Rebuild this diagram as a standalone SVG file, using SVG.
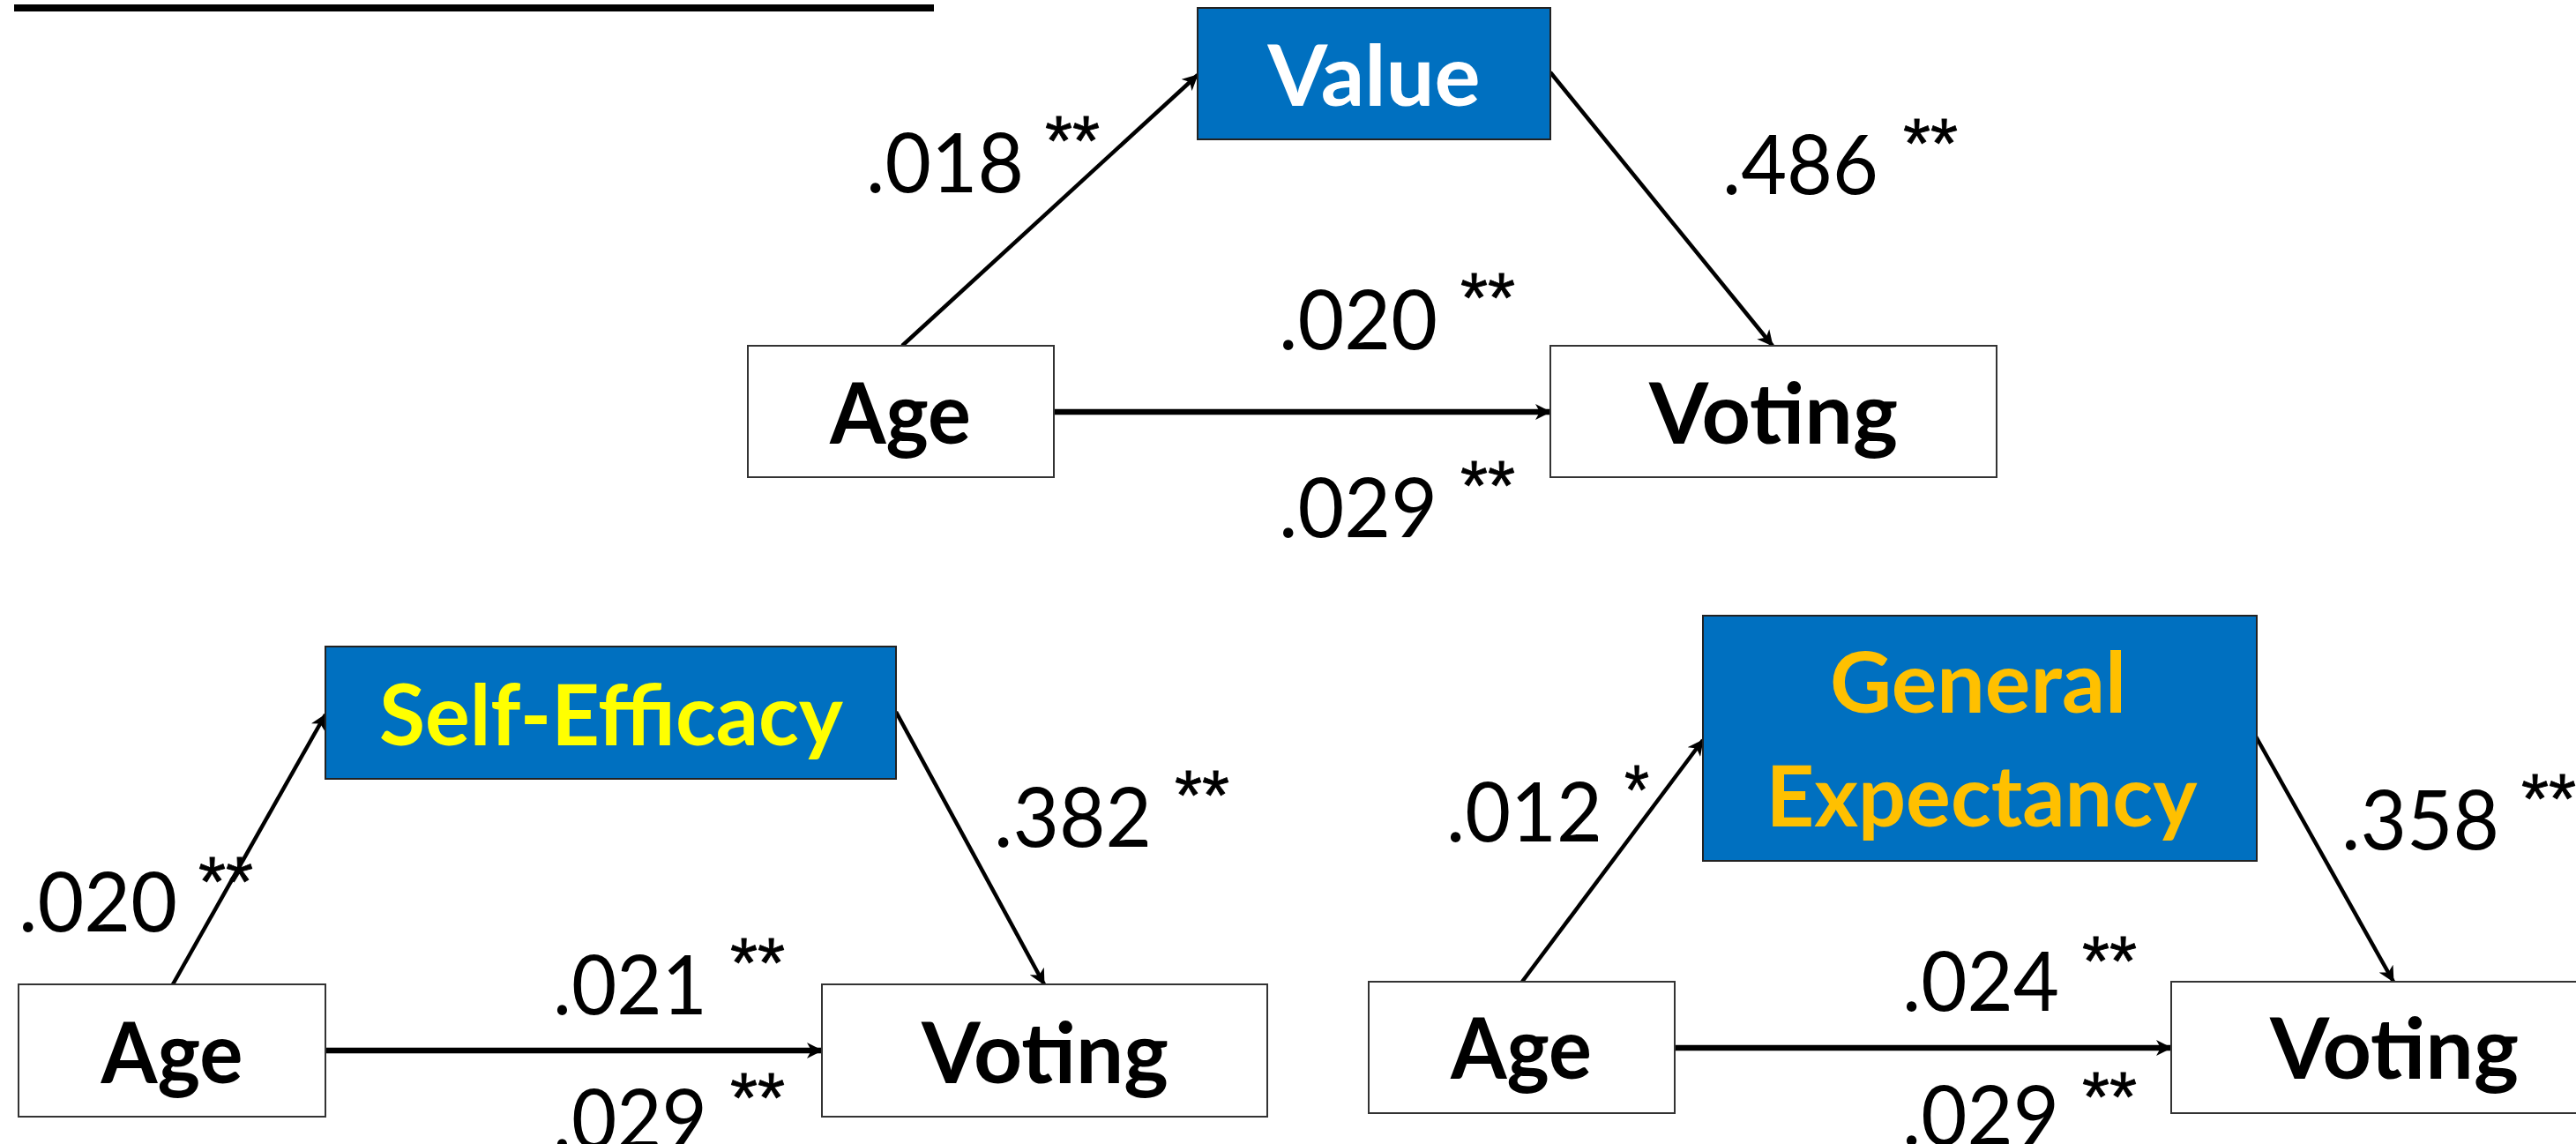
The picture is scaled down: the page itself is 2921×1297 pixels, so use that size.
<svg xmlns="http://www.w3.org/2000/svg" width="2921" height="1297" viewBox="0 0 2921 1297">
<style>
.box{fill:#ffffff;stroke:#333333;stroke-width:2}
.med{fill:#0070C0;stroke:#222222;stroke-width:2}
.nt{font-family:Lato,"Open Sans",sans-serif;font-weight:bold;font-size:95px;text-anchor:middle;fill:#000000}
.lb{font-family:Lato,"Open Sans",sans-serif;font-size:93px;fill:#000000}
.st{font-family:"Liberation Sans",Arial,sans-serif;font-size:80px;fill:#000000;stroke:#000000;stroke-width:0.8}
.dg{stroke:#000000;stroke-width:4.5;fill:none}
.hz{stroke:#000000;stroke-width:6.5;fill:none}
</style>
<defs>
<marker id="ah" viewBox="0 0 18 18" refX="17" refY="9" markerWidth="18" markerHeight="18" markerUnits="userSpaceOnUse" orient="auto">
<path d="M0,0 L18,9 L0,18 L5,9 z" fill="#000000"/>
</marker>
</defs>
<rect width="2921" height="1297" fill="#ffffff"/>
<line x1="16" y1="9" x2="1059" y2="9" stroke="#000000" stroke-width="8"/>

<g id="connectors">
<line class="dg" x1="1023" y1="392" x2="1358" y2="85" marker-end="url(#ah)"/>
<line class="dg" x1="1758" y1="82" x2="2010" y2="392" marker-end="url(#ah)"/>
<line class="hz" x1="1195" y1="467" x2="1758" y2="467" marker-end="url(#ah)"/>
<line class="dg" x1="196" y1="1116" x2="369" y2="810" marker-end="url(#ah)"/>
<line class="dg" x1="1016" y1="807" x2="1184" y2="1116" marker-end="url(#ah)"/>
<line class="hz" x1="369" y1="1191" x2="932" y2="1191" marker-end="url(#ah)"/>
<line class="dg" x1="1726" y1="1113" x2="1931" y2="839" marker-end="url(#ah)"/>
<line class="dg" x1="2558" y1="835" x2="2714" y2="1113" marker-end="url(#ah)"/>
<line class="hz" x1="1899" y1="1188" x2="2462" y2="1188" marker-end="url(#ah)"/>
</g>

<g id="value">
<rect class="med" x="1358" y="9" width="400" height="149"/>
<text class="nt" x="1558" y="120" style="fill:#ffffff" textLength="241" lengthAdjust="spacingAndGlyphs">Value</text>
</g>
<g id="age1">
<rect class="box" x="848" y="392" width="347" height="149"/>
<text class="nt" x="1021" y="503" textLength="160" lengthAdjust="spacingAndGlyphs">Age</text>
</g>
<g id="voting1">
<rect class="box" x="1758" y="392" width="506" height="149"/>
<text class="nt" x="2011" y="503" textLength="282" lengthAdjust="spacingAndGlyphs">Voting</text>
</g>

<g id="selfefficacy">
<rect class="med" x="369" y="733" width="647" height="150"/>
<text class="nt" x="693" y="845" style="fill:#FFFF00" textLength="526" lengthAdjust="spacingAndGlyphs">Self-Efficacy</text>
</g>
<g id="age2">
<rect class="box" x="21" y="1116" width="348" height="150"/>
<text class="nt" x="195" y="1228" textLength="161" lengthAdjust="spacingAndGlyphs">Age</text>
</g>
<g id="voting2">
<rect class="box" x="932" y="1116" width="505" height="150"/>
<text class="nt" x="1185" y="1228" textLength="280" lengthAdjust="spacingAndGlyphs">Voting</text>
</g>

<g id="generalexpectancy">
<rect class="med" x="1931" y="698" width="628" height="278"/>
<text class="nt" x="2243" y="808" style="fill:#FFC000" textLength="336" lengthAdjust="spacingAndGlyphs">General</text>
<text class="nt" x="2247" y="937" style="fill:#FFC000" textLength="489" lengthAdjust="spacingAndGlyphs">Expectancy</text>
</g>
<g id="age3">
<rect class="box" x="1552" y="1113" width="347" height="149"/>
<text class="nt" x="1725" y="1223" textLength="160" lengthAdjust="spacingAndGlyphs">Age</text>
</g>
<g id="voting3">
<rect class="box" x="2462" y="1113" width="506" height="149"/>
<text class="nt" x="2715" y="1223" textLength="282" lengthAdjust="spacingAndGlyphs">Voting</text>
</g>

<g id="labels">
<text class="lb" x="982" y="218" textLength="179" lengthAdjust="spacingAndGlyphs">.018</text>
<text class="st" x="1185" y="187" textLength="62" lengthAdjust="spacingAndGlyphs">**</text>
<text class="lb" x="1953" y="220" textLength="177" lengthAdjust="spacingAndGlyphs">.486</text>
<text class="st" x="2158" y="190" textLength="62" lengthAdjust="spacingAndGlyphs">**</text>
<text class="lb" x="1450" y="396" textLength="180" lengthAdjust="spacingAndGlyphs">.020</text>
<text class="st" x="1656" y="365" textLength="62" lengthAdjust="spacingAndGlyphs">**</text>
<text class="lb" x="1450" y="609" textLength="180" lengthAdjust="spacingAndGlyphs">.029</text>
<text class="st" x="1656" y="578" textLength="62" lengthAdjust="spacingAndGlyphs">**</text>

<text class="lb" x="21" y="1056" textLength="180" lengthAdjust="spacingAndGlyphs">.020</text>
<text class="st" x="225" y="1027" textLength="62" lengthAdjust="spacingAndGlyphs">**</text>
<text class="lb" x="1127" y="960" textLength="179" lengthAdjust="spacingAndGlyphs">.382</text>
<text class="st" x="1332" y="929" textLength="62" lengthAdjust="spacingAndGlyphs">**</text>
<text class="lb" x="627" y="1150" textLength="175" lengthAdjust="spacingAndGlyphs">.021</text>
<text class="st" x="828" y="1119" textLength="62" lengthAdjust="spacingAndGlyphs">**</text>
<text class="lb" x="627" y="1302" textLength="175" lengthAdjust="spacingAndGlyphs">.029</text>
<text class="st" x="828" y="1272" textLength="62" lengthAdjust="spacingAndGlyphs">**</text>

<text class="lb" x="1640" y="954" textLength="177" lengthAdjust="spacingAndGlyphs">.012</text>
<text class="st" x="1842" y="923" textLength="28" lengthAdjust="spacingAndGlyphs">*</text>
<text class="lb" x="2655" y="963" textLength="179" lengthAdjust="spacingAndGlyphs">.358</text>
<text class="st" x="2859" y="933" textLength="62" lengthAdjust="spacingAndGlyphs">**</text>
<text class="lb" x="2157" y="1146" textLength="178" lengthAdjust="spacingAndGlyphs">.024</text>
<text class="st" x="2361" y="1117" textLength="62" lengthAdjust="spacingAndGlyphs">**</text>
<text class="lb" x="2157" y="1298" textLength="178" lengthAdjust="spacingAndGlyphs">.029</text>
<text class="st" x="2361" y="1271" textLength="62" lengthAdjust="spacingAndGlyphs">**</text>
</g>
</svg>
